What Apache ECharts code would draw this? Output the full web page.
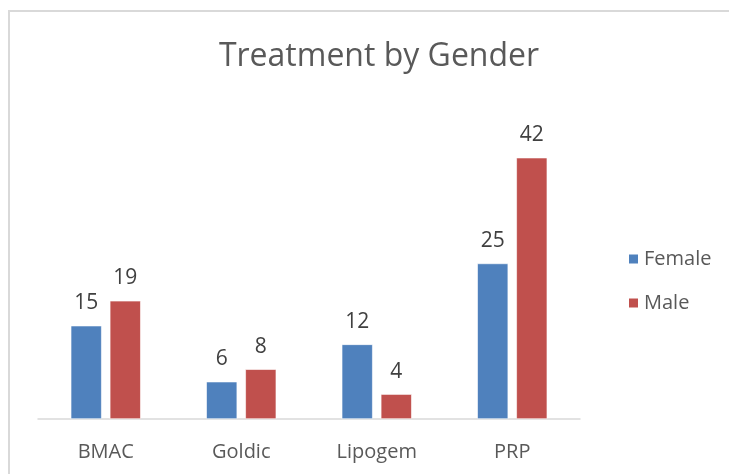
<!DOCTYPE html>
<html>
<head>
    <meta charset="utf-8">
    <title>Treatment by Gender</title>
    <style>
        html, body { margin: 0; padding: 0; background: #fff; overflow: hidden; }
        #frame { position: absolute; left: 8px; top: 10px; width: 760px; height: 500px; border: 2px solid #d9d9d9; box-sizing: border-box; }
        #main { position: absolute; left: 0; top: 0; width: 729px; height: 474px; }
    </style>
</head>
<body>
    <div id="frame"></div>
    <div id="main"></div>
    <script src="https://cdn.jsdelivr.net/npm/echarts@6/dist/echarts.min.js"></script>
    <script type="text/javascript">
        var categories = ['BMAC', 'Goldic', 'Lipogem', 'PRP'];
        var female = [15, 6, 12, 25];
        var male = [19, 8, 4, 42];

        var font = '"Open Sans", sans-serif';
        var myChart = echarts.init(document.getElementById('main'));

        function barSeries(name, data, color) {
            return {
                name: name,
                type: 'bar',
                data: data,
                barWidth: 31,
                barGap: '26%',
                itemStyle: { color: color, borderColor: '#ffffff', borderWidth: 0.6 },
                label: {
                    show: true,
                    position: 'top',
                    distance: 12,
                    color: '#404040',
                    fontSize: 21,
                    fontFamily: font
                }
            };
        }

        var option = {
            animation: false,
            title: {
                text: 'Treatment by Gender',
                left: 374,
                textAlign: 'center',
                top: 36,
                textStyle: { color: '#595959', fontSize: 32, fontWeight: 'normal', fontFamily: font }
            },
            legend: {
                orient: 'vertical',
                left: 622,
                top: 244,
                itemWidth: 11,
                itemHeight: 11,
                itemGap: 24,
                icon: 'rect',
                textStyle: { color: '#595959', fontSize: 20, fontFamily: font },
                data: ['Female', 'Male']
            },
            grid: { left: 38, top: 139, width: 542, height: 280 },
            xAxis: {
                type: 'category',
                data: categories,
                axisTick: { show: false },
                axisLine: { lineStyle: { color: '#d9d9d9', width: 1.5 } },
                axisLabel: { color: '#595959', fontSize: 20, fontFamily: font, margin: 23 }
            },
            yAxis: {
                type: 'value',
                min: 0,
                max: 45,
                show: false,
                splitLine: { show: false }
            },
            series: [
                barSeries('Female', female, '#4f81bd'),
                barSeries('Male', male, '#c0504d')
            ]
        };
        myChart.setOption(option);
    </script>
</body>
</html>
